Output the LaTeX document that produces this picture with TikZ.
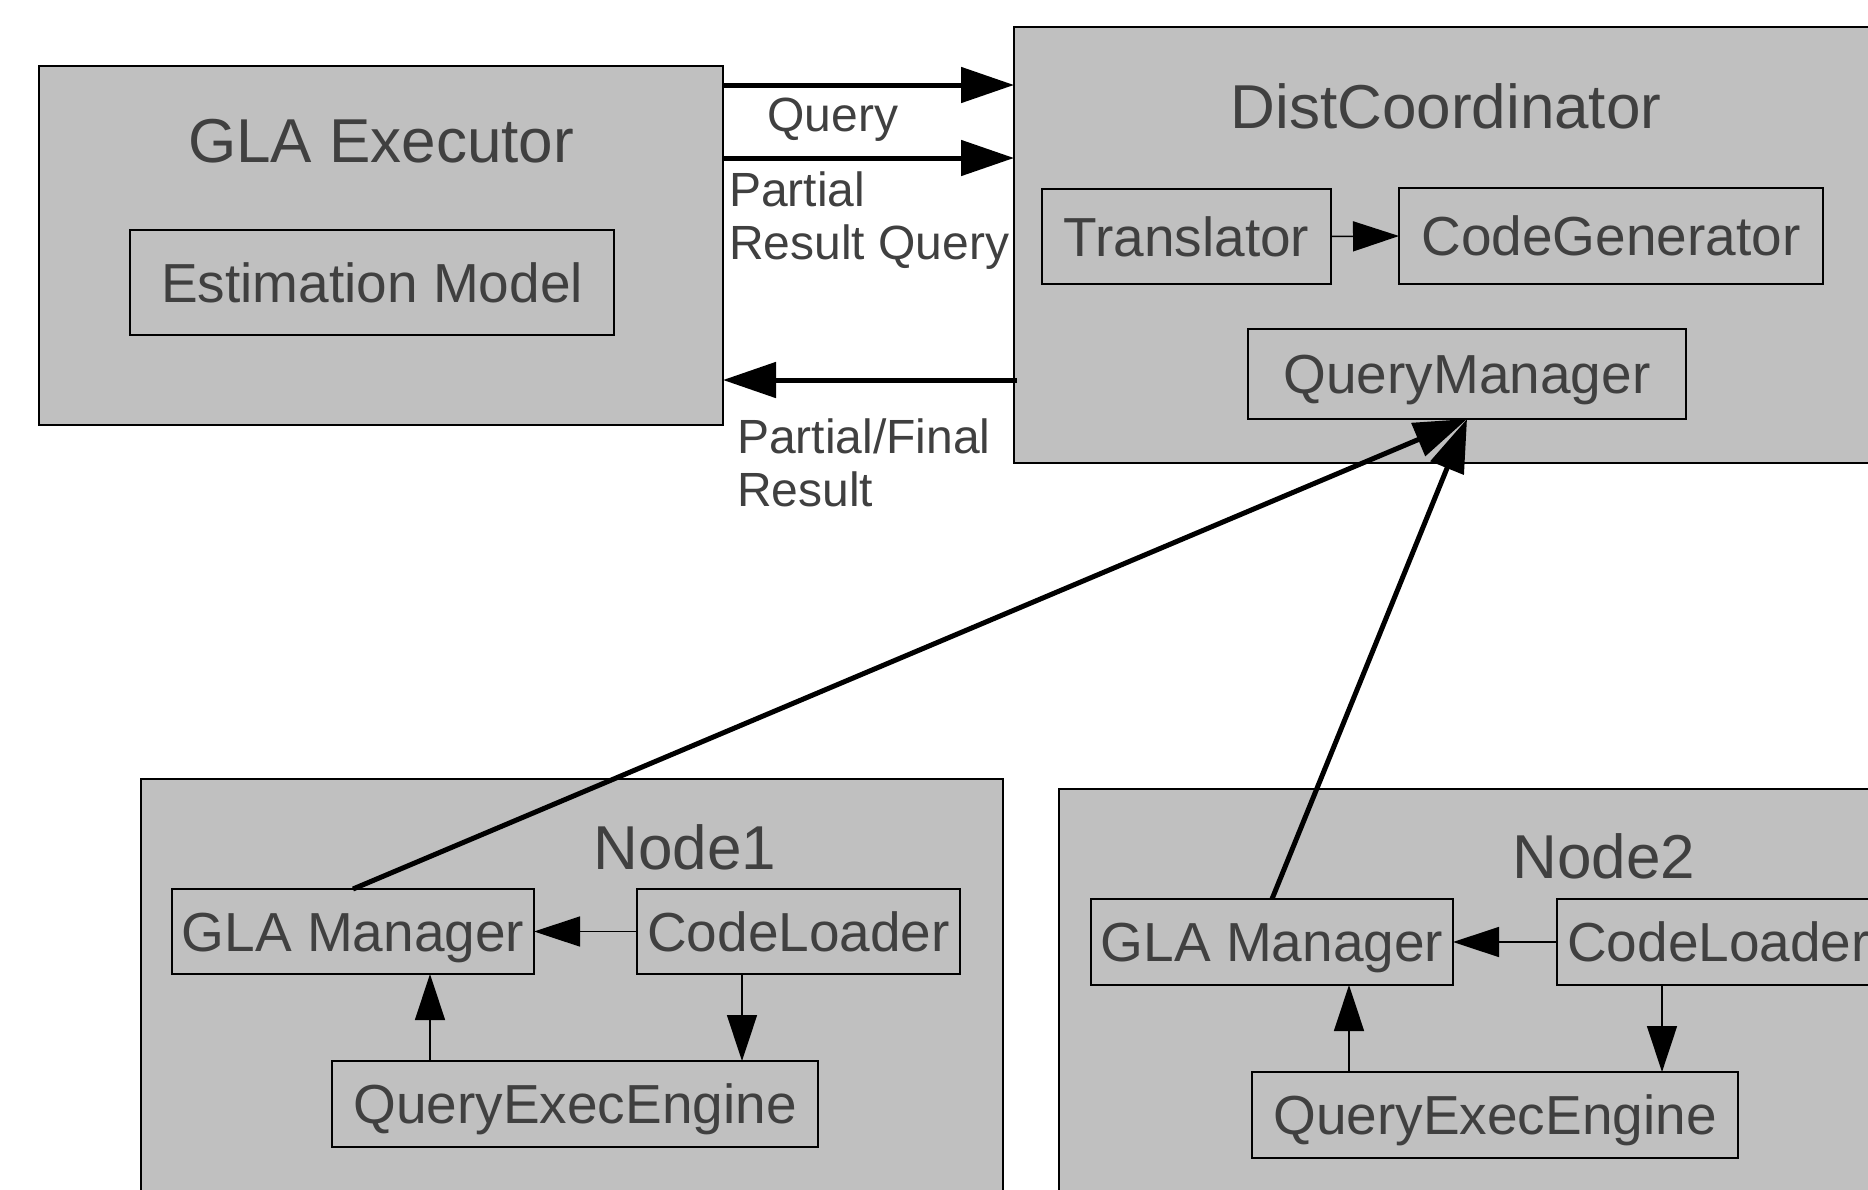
\documentclass[tikz,border=0pt]{standalone}
\usepackage{fontspec}
\setmainfont{Liberation Sans}
\usetikzlibrary{arrows.meta}
\definecolor{boxfill}{RGB}{192,192,192}
\definecolor{txt}{RGB}{64,64,64}
\tikzset{
  container/.style={draw=black, line width=2pt, fill=boxfill, inner sep=0pt, outer sep=0pt},
  inner/.style={draw=black, line width=2pt, fill=boxfill, inner sep=0pt, outer sep=0pt,
    text=txt, font=\fontsize{55pt}{66pt}\selectfont, text height=39.4pt, text depth=0pt},
  title/.style={inner sep=0pt, anchor=base, text=txt, font=\fontsize{62pt}{74pt}\selectfont},
  lbl/.style={inner sep=0pt, anchor=base west, text=txt, font=\fontsize{48pt}{58pt}\selectfont},
  bigarrow/.style={line width=5pt, -{Triangle[length=53pt,width=35pt]}},
  smallarrow/.style={line width=1.5pt, -{Triangle[length=46pt,width=30pt]}},
}
\begin{document}
\begin{tikzpicture}[x=1pt,y=-1pt]
\useasboundingbox (0,0) rectangle (1868,1189);
\clip (0,0) rectangle (1868,1189);
\fill[white] (0,0) rectangle (1868,1189);

% containers
\node[container, minimum width=684pt, minimum height=359pt] (glaexec) at (381,245.5) {};
\node[container, minimum width=886pt, minimum height=436pt] (dist) at (1457,245) {};
\node[container, minimum width=862pt, minimum height=431pt] (node1) at (572,994.5) {};
\node[container, minimum width=841pt, minimum height=421pt] (node2) at (1479.5,999.5) {};

% titles
\node[title] (tglaexec) at (381,162) {GLA Executor};
\node[title] (tdist) at (1446,128) {DistCoordinator};
\node[title] (tnode1) at (685,869) {Node1};
\node[title] (tnode2) at (1604,878) {Node2};

% inner boxes
\node[inner, minimum width=484pt, minimum height=105pt] (est) at (372,282.5) {Estimation Model};
\node[inner, minimum width=289pt, minimum height=95pt] (trans) at (1186.5,236.5) {Translator};
\node[inner, minimum width=424pt, minimum height=96pt] (codegen) at (1611,236) {CodeGenerator};
\node[inner, minimum width=438pt, minimum height=90pt] (qm) at (1467,374) {QueryManager};

\node[inner, minimum width=362pt, minimum height=85pt] (gm1) at (353,931.5) {GLA Manager};
\node[inner, minimum width=323pt, minimum height=85pt] (cl1) at (798.5,931.5) {CodeLoader};
\node[inner, minimum width=486pt, minimum height=86pt] (qee1) at (575,1104) {QueryExecEngine};

\node[inner, minimum width=362pt, minimum height=86pt] (gm2) at (1272,942) {GLA Manager};
\node[inner, minimum width=323pt, minimum height=86pt] (cl2) at (1718.5,942) {CodeLoader};
\node[inner, minimum width=486pt, minimum height=86pt] (qee2) at (1495,1115) {QueryExecEngine};

% labels
\node[inner sep=0pt, anchor=base, text=txt, font=\fontsize{48pt}{58pt}\selectfont] (lquery) at (833,131) {Query};
\node[lbl] (lpartial) at (729,206) {Partial};
\node[lbl] (lresq) at (729,259) {Result Query};
\node[lbl] (lpf) at (737,453) {Partial/Final};
\node[lbl] (lres) at (737,506) {Result};

% thick arrows between executor and coordinator
\coordinate (q1) at (723,85);
\coordinate (q2) at (723,158);
\coordinate (r1) at (1017,380);
\draw[bigarrow] (q1) -- (q1 -| dist.west);
\draw[bigarrow] (q2) -- (q2 -| dist.west);
\draw[bigarrow] (r1) -- (r1 -| glaexec.east);

% thick arrows to QueryManager
\draw[bigarrow] (gm1.north) -- (qm.south);
\draw[bigarrow] (gm2.north) -- (qm.south);

% thin arrows
\draw[smallarrow] (trans.east) -- (codegen.west);

\draw[smallarrow] (cl1.west) -- (gm1.east);
\coordinate (c1) at ([xshift=-56.5pt]cl1.south);
\draw[smallarrow] (c1) -- (c1 |- qee1.north);
\coordinate (e1) at ([xshift=-145pt]qee1.north);
\draw[smallarrow] (e1) -- (e1 |- gm1.south);

\draw[smallarrow] (cl2.west) -- (gm2.east);
\coordinate (c2) at ([xshift=-56.5pt]cl2.south);
\draw[smallarrow] (c2) -- (c2 |- qee2.north);
\coordinate (e2) at ([xshift=-146pt]qee2.north);
\draw[smallarrow] (e2) -- (e2 |- gm2.south);
\end{tikzpicture}
\end{document}
